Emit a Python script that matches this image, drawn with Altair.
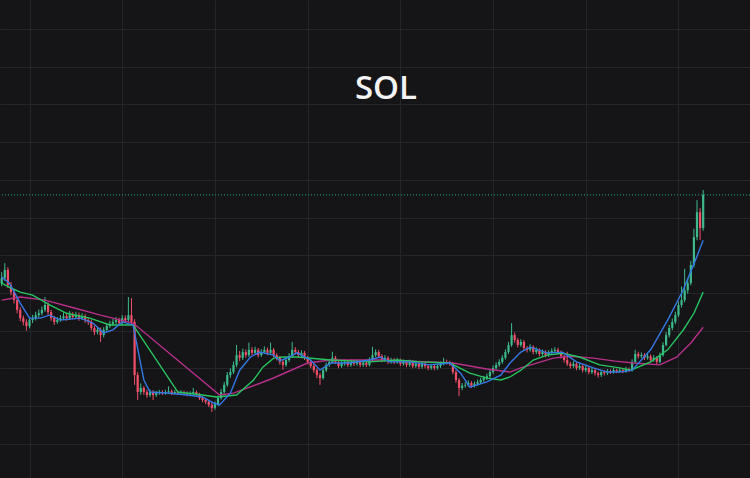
import altair as alt
import pandas as pd

# SOL candles, one every two days; day 0 sits on the first vertical grid line
first_open = 42.5
closes = [
    43.9, 46.1, 42.1, 40.2, 38.1, 35.5, 33.3, 32.3, 31.2, 32.8,
    33.3, 34.1, 34.6, 35.5, 36.8, 34.9, 33.3, 32.3, 32.8, 33.3,
    33.8, 33.3, 34.1, 33.6, 34.1, 33.3, 33.8, 32.8, 32.3, 30.7,
    29.6, 30.2, 28.8, 30.2, 31.2, 31.8, 32.3, 32.8, 32.0, 33.3,
    32.8, 34.1, 32.3, 18.2, 13.7, 14.8, 13.7, 12.9, 13.7, 12.9,
    13.4, 13.7, 13.4, 13.7, 13.9, 13.4, 13.7, 13.4, 13.7, 13.4,
    13.1, 13.4, 13.7, 13.1, 12.1, 11.6, 11.1, 10.3, 9.5, 10.5,
    12.1, 13.7, 15.6, 18.2, 19.0, 20.9, 23.5, 22.8, 24.3, 23.5,
    24.9, 24.1, 24.9, 23.5, 24.3, 24.9, 24.1, 24.9, 23.5, 22.8,
    21.7, 20.9, 22.2, 23.2, 24.9, 24.3, 23.5, 24.1, 22.8, 21.7,
    20.6, 19.5, 18.2, 17.4, 19.5, 20.9, 21.7, 22.8, 21.7, 20.6,
    21.2, 21.7, 20.9, 21.7, 21.2, 21.7, 20.9, 21.4, 20.9, 22.2,
    23.5, 24.3, 23.2, 22.2, 22.8, 21.7, 22.2, 21.7, 22.2, 21.2,
    21.7, 20.9, 21.7, 20.6, 21.2, 20.4, 21.2, 20.6, 20.1, 20.6,
    20.1, 20.6, 21.2, 21.7, 21.5, 21.2, 19.0, 16.9, 14.8, 15.4,
    15.6, 16.1, 15.4, 15.9, 16.3, 16.9, 17.4, 17.9, 19.0, 20.1,
    20.9, 21.7, 22.8, 24.3, 26.2, 28.8, 27.5, 26.2, 27.0, 25.4,
    24.9, 25.7, 24.3, 24.9, 23.8, 24.3, 23.5, 24.1, 24.6, 24.9,
    24.3, 23.2, 22.2, 21.2, 20.6, 21.2, 20.1, 20.6, 19.5, 20.1,
    19.0, 19.5, 18.7, 18.2, 19.0, 18.7, 19.2, 19.0, 19.5, 19.2,
    19.5, 19.2, 19.8, 19.5, 21.7, 23.8, 23.2, 23.5, 22.8, 23.2,
    22.2, 22.8, 21.7, 23.5, 26.2, 28.8, 30.7, 32.3, 34.1, 36.8,
    38.1, 40.7, 42.6, 47.4, 54.8, 61.4, 57.2, 66.0,
]
highs = [
    45.5, 47.9, 46.8, 42.9, 41.0, 38.8, 36.2, 34.0, 33.0, 33.6,
    34.2, 35.0, 35.6, 36.4, 38.9, 37.5, 35.5, 33.9, 33.6, 34.1,
    34.8, 34.5, 35.2, 34.9, 35.0, 34.8, 34.6, 34.4, 33.5, 32.9,
    31.3, 31.0, 30.8, 30.9, 31.9, 32.6, 33.1, 33.6, 33.4, 34.1,
    34.0, 38.9, 38.6, 33.0, 19.0, 16.0, 15.3, 14.3, 14.4, 14.2,
    14.0, 14.3, 14.2, 14.3, 15.2, 14.4, 14.2, 14.1, 14.2, 14.1,
    13.9, 13.9, 14.8, 14.1, 13.5, 12.5, 12.0, 11.5, 10.8, 11.2,
    12.8, 14.5, 16.4, 19.0, 20.0, 21.8, 26.2, 24.6, 25.2, 25.0,
    26.8, 25.6, 25.7, 25.4, 25.1, 25.8, 25.5, 26.8, 25.4, 24.0,
    23.3, 22.2, 22.9, 24.0, 27.0, 25.6, 24.9, 24.8, 24.6, 23.3,
    22.2, 21.1, 20.0, 18.8, 20.1, 21.5, 22.4, 24.4, 23.3, 22.2,
    21.9, 22.3, 22.2, 22.3, 22.2, 22.3, 22.1, 22.0, 21.9, 22.9,
    25.7, 25.0, 24.9, 23.7, 23.5, 23.2, 22.8, 22.7, 22.8, 22.6,
    22.3, 22.1, 22.3, 22.1, 21.8, 21.6, 21.8, 21.6, 21.0, 21.2,
    21.0, 21.2, 21.8, 22.8, 22.3, 22.0, 21.6, 19.5, 17.4, 16.1,
    16.3, 16.8, 16.6, 16.5, 17.0, 17.5, 18.0, 18.6, 19.7, 20.8,
    21.6, 22.4, 23.5, 25.0, 27.0, 32.0, 29.5, 28.0, 27.7, 27.5,
    25.9, 26.4, 26.1, 25.6, 25.3, 25.0, 24.8, 24.8, 25.3, 25.6,
    25.4, 24.7, 23.6, 24.4, 21.7, 21.9, 21.6, 21.3, 21.0, 20.8,
    20.5, 20.2, 19.9, 19.1, 19.6, 19.5, 19.8, 19.7, 20.1, 19.9,
    20.1, 19.9, 20.4, 20.2, 22.4, 24.9, 24.4, 24.2, 24.0, 23.9,
    23.7, 23.5, 23.2, 24.2, 26.9, 29.6, 31.5, 33.2, 35.0, 37.7,
    41.7, 46.4, 44.0, 48.5, 57.0, 64.6, 62.5, 67.3,
]
lows = [
    41.8, 43.2, 41.3, 39.4, 37.2, 34.6, 32.5, 31.4, 30.0, 30.6,
    32.0, 32.7, 33.5, 34.0, 35.0, 34.2, 32.6, 31.5, 31.8, 32.3,
    32.8, 32.6, 32.9, 33.0, 33.1, 32.6, 32.8, 32.0, 31.5, 30.0,
    28.8, 29.0, 27.0, 28.2, 29.7, 30.7, 31.2, 31.7, 31.3, 31.5,
    32.1, 32.3, 31.7, 15.6, 11.6, 13.0, 13.0, 12.2, 12.4, 11.6,
    12.4, 13.0, 12.9, 13.0, 13.2, 12.9, 13.0, 12.9, 13.0, 12.9,
    12.6, 12.7, 13.0, 12.6, 11.6, 11.0, 10.5, 9.7, 8.4, 9.0,
    10.1, 11.7, 13.2, 15.1, 17.5, 18.5, 20.3, 21.9, 22.2, 22.8,
    23.0, 23.5, 23.6, 22.9, 23.0, 23.8, 23.5, 23.6, 22.9, 22.1,
    21.0, 19.6, 20.4, 21.7, 22.8, 23.7, 22.9, 23.0, 22.2, 21.1,
    20.0, 18.8, 17.4, 15.6, 17.0, 19.0, 20.4, 21.2, 21.1, 20.0,
    20.1, 20.7, 20.3, 20.4, 20.6, 20.7, 20.3, 20.4, 20.3, 20.5,
    21.8, 23.0, 22.7, 21.6, 21.7, 21.1, 21.2, 21.1, 21.2, 20.6,
    20.7, 20.3, 20.4, 20.0, 20.1, 19.8, 19.9, 20.0, 19.5, 19.6,
    19.5, 19.6, 20.1, 20.8, 21.0, 20.6, 18.4, 16.2, 12.6, 14.2,
    14.9, 15.1, 14.8, 14.9, 15.4, 15.8, 16.4, 16.9, 17.4, 18.5,
    19.6, 20.4, 21.2, 22.3, 23.8, 25.7, 26.8, 25.5, 25.7, 24.8,
    24.2, 24.4, 23.7, 23.8, 23.2, 23.3, 22.9, 23.0, 23.6, 24.1,
    23.7, 22.6, 21.5, 20.6, 19.9, 20.1, 19.5, 19.6, 18.9, 19.0,
    18.4, 18.5, 18.1, 17.5, 17.7, 18.1, 18.2, 18.5, 18.6, 18.7,
    18.8, 18.7, 18.8, 19.0, 19.1, 21.3, 22.6, 22.7, 22.2, 22.3,
    21.6, 21.7, 21.0, 21.3, 23.1, 25.8, 28.2, 30.1, 31.7, 33.6,
    36.1, 37.5, 39.8, 42.0, 46.8, 54.0, 54.0, 56.5,
]

# Moving averages (fast / medium / slow), sampled as day -> price
fast_days = [-18, -13, -6, 0, 7, 13, 20, 33, 41, 48, 54, 60, 67, 74, 78, 91, 102, 112, 119, 123,
             130, 136, 143, 149, 158, 162, 167, 173, 182, 188, 195, 207, 220, 227, 233, 246, 259, 272, 279, 285,
             296, 305, 311, 318, 324, 335, 345, 354, 365, 374, 382, 390, 402, 413, 423, 431, 436]
fast_vals = [44.2, 42.6, 37.3, 33.3, 33.3, 34.1, 32.8, 33.3, 32.0, 29.4, 30.2, 32.3, 31.5, 16.9, 13.7, 13.4, 12.9, 12.4, 10.8, 10.3,
             13.4, 19.5, 23.0, 24.3, 23.5, 22.0, 22.8, 24.1, 22.2, 19.5, 21.4, 21.4, 22.2, 23.0, 21.7, 21.7, 20.9, 21.4, 18.7, 15.0,
             16.4, 18.2, 21.4, 24.3, 25.6, 24.1, 24.3, 21.7, 20.1, 19.0, 19.0, 19.5, 24.9, 32.8, 40.7, 48.7, 54.0]
mid_days = [-18, -13, -6, 2, 13, 24, 39, 52, 67, 96, 112, 121, 134, 145, 151, 158, 164, 173, 195, 220,
            238, 253, 272, 285, 296, 305, 311, 318, 326, 335, 345, 356, 369, 382, 389, 402, 413, 423, 430, 436]
mid_vals = [42.6, 41.5, 40.2, 39.4, 36.8, 34.6, 33.3, 31.5, 31.5, 13.7, 12.9, 12.4, 12.9, 16.9, 20.3, 22.7, 23.0, 23.0, 22.2, 21.7,
            22.2, 21.7, 21.4, 18.7, 17.4, 16.9, 17.7, 19.5, 22.2, 23.5, 24.0, 23.0, 20.9, 20.1, 19.5, 21.7, 24.9, 30.1, 34.6, 40.2]
slow_days = [-18, -6, 10, 29, 46, 67, 123, 132, 156, 180, 195, 227, 259, 274, 296, 311, 318, 339, 350, 365,
             379, 391, 408, 419, 428, 436]
slow_vals = [38.1, 38.9, 38.1, 36.0, 34.1, 32.0, 12.9, 13.4, 17.1, 21.4, 22.2, 22.2, 21.7, 21.4, 19.8, 19.0, 20.1, 22.7, 23.2, 22.7,
             21.9, 21.4, 20.9, 23.0, 26.7, 30.9]

grid_days = [0, 60, 120, 180, 240, 300, 360, 420]
grid_prices = [0, 10, 20, 30, 40, 50, 60, 70, 80, 90, 100, 110]

BG = "#151518"
GRID = "#24252a"
UP = "#3dba8c"
DOWN = "#ef5068"

# Crypto trades around the clock, so each candle opens at the previous close
opens = [first_open] + closes[:-1]
candles = pd.DataFrame({
    "day": [-18 + 2 * i for i in range(len(closes))],
    "open": opens,
    "close": closes,
    "high": highs,
    "low": lows,
})
candles["dir"] = ["up" if c >= o else "down" for o, c in zip(opens, closes)]

x_scale = alt.Scale(domain=[-19.1, 466.3], nice=False, zero=False)
y_scale = alt.Scale(domain=[-9.1, 117.7], nice=False, zero=False)
x_axis = alt.Axis(values=grid_days, labels=False, ticks=False, domain=False, title=None,
                  grid=True, gridColor=GRID, gridWidth=1)
y_axis = alt.Axis(values=grid_prices, labels=False, ticks=False, domain=False, title=None,
                  grid=True, gridColor=GRID, gridWidth=1)


def X(field):
    return alt.X(field, type="quantitative", scale=x_scale, axis=x_axis)


def Y(field):
    return alt.Y(field, type="quantitative", scale=y_scale, axis=y_axis)


dir_color = alt.Color("dir:N", scale=alt.Scale(domain=["up", "down"], range=[UP, DOWN]), legend=None)

base = alt.Chart(candles)
wicks = base.mark_rule(strokeWidth=1).encode(x=X("day"), y=Y("low"), y2="high", color=dir_color)
bodies = base.mark_rule(strokeWidth=2.2).encode(x=X("day"), y=Y("open"), y2="close", color=dir_color)


def ma_layer(days, vals, color):
    df = pd.DataFrame({"day": days, "value": vals})
    return alt.Chart(df).mark_line(strokeWidth=1.4, color=color).encode(x=X("day"), y=Y("value"))


fast = ma_layer(fast_days, fast_vals, "#3479e6")
mid = ma_layer(mid_days, mid_vals, "#27c45f")
slow = ma_layer(slow_days, slow_vals, "#b8308a")

last_price = alt.Chart(pd.DataFrame({"price": [closes[-1]]})).mark_rule(
    color="#23a58a", strokeWidth=1, strokeDash=[1, 2]
).encode(y=Y("price"))

title = alt.Chart(pd.DataFrame({"label": ["SOL"]})).mark_text(
    font="Open Sans", fontSize=33, fontWeight=600, color="#f4f4f4", align="center", baseline="middle"
).encode(text="label:N", x=alt.value(386), y=alt.value(89))

chart = alt.layer(last_price, wicks, bodies, slow, mid, fast, title).properties(
    width=750, height=478, background=BG, padding=0,
    autosize=alt.AutoSizeParams(type="none"),
).configure_view(stroke=None)

chart.save("out.html", embed_options={"renderer": "svg", "actions": False})
